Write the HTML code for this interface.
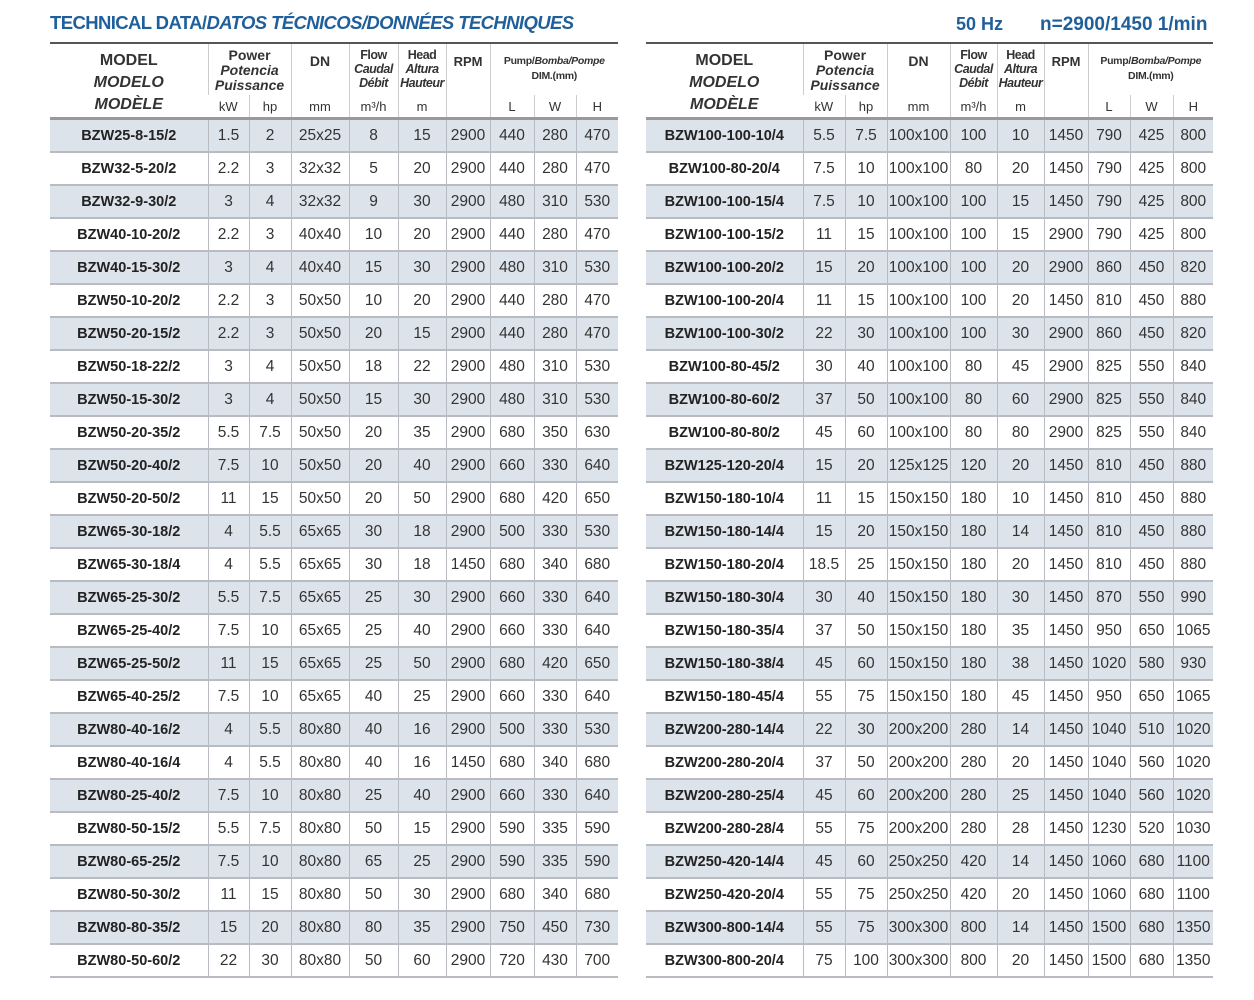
<!DOCTYPE html>
<html><head><meta charset="utf-8"><style>
body{margin:0;width:1254px;height:1000px;background:#fff;position:relative;font-family:"Liberation Sans",sans-serif;color:#333;overflow:hidden}
.t{position:absolute;font-weight:bold;color:#1f5f9a;font-size:18px;white-space:nowrap}
table{position:absolute;border-collapse:collapse;table-layout:fixed}
table.h{top:42px;border-top:2px solid #555;border-bottom:3px solid #999;height:77px}
table.h td{text-align:center;vertical-align:top;font-weight:bold;color:#333;border-left:1px solid #ccc;padding:0;overflow:visible;white-space:nowrap}
table.h td:first-child{border-left:none}
table.h tr.u td{font-weight:normal;font-size:13px;vertical-align:middle;height:22px}
table.h tr.u td.e{border-left:1px solid #ccc}
table.b{top:120px}
table.b td{height:31px;border-bottom:2px solid #b8bcc2;border-left:1px solid #b8bcc2;text-align:center;font-size:15.5px;padding:0;white-space:nowrap}
table.b td:first-child{border-left:none;font-weight:bold;font-size:14.5px;color:#222}
table.b tr:nth-child(odd) td{background:#dde3eb}
i{font-style:italic}
.m{font-size:16px;line-height:22px;padding-top:6px!important}
.p{font-size:14px;line-height:15px;padding-top:4px!important}
.f{font-size:12.5px;line-height:14px;padding-top:4px!important;letter-spacing:-.5px}
.s{font-size:10.5px;line-height:15px;padding-top:10px!important;letter-spacing:-.3px}
</style></head><body>
<div class="t" style="left:50px;top:12px;font-size:18.5px;letter-spacing:-.6px">TECHNICAL DATA/<i>DATOS TÉCNICOS/DONNÉES TECHNIQUES</i></div>
<div class="t" style="left:956px;top:14px">50 Hz</div>
<div class="t" style="left:1040px;top:14px;font-size:19px">n=2900/1450 1/min</div>

<table class="h" style="left:50px;width:568px">
<colgroup><col style="width:158px"><col style="width:41px"><col style="width:42px"><col style="width:58px"><col style="width:49px"><col style="width:48px"><col style="width:44px"><col style="width:44px"><col style="width:42px"><col style="width:42px"></colgroup>
<tr style="height:52px"><td rowspan="2" class="m">MODEL<br><i>MODELO</i><br><i>MODÈLE</i></td><td colspan="2" class="p">Power<br><i>Potencia</i><br><i>Puissance</i></td><td class="p" style="padding-top:10px!important">DN</td><td class="f">Flow<br><i>Caudal</i><br><i>Débit</i></td><td class="f">Head<br><i>Altura</i><br><i>Hauteur</i></td><td rowspan="2" class="p" style="font-size:13px;padding-top:10px!important">RPM</td><td colspan="3" class="s">Pump/<i>Bomba/Pompe</i><br>DIM.(mm)</td></tr>
<tr class="u"><td>kW</td><td class="e">hp</td><td>mm</td><td>m³/h</td><td>m</td><td>L</td><td class="e">W</td><td class="e">H</td></tr>
</table>

<table class="h" style="left:646px;width:567px">
<colgroup><col style="width:157px"><col style="width:42px"><col style="width:42px"><col style="width:63px"><col style="width:47px"><col style="width:47px"><col style="width:44px"><col style="width:42px"><col style="width:43px"><col style="width:40px"></colgroup>
<tr style="height:52px"><td rowspan="2" class="m">MODEL<br><i>MODELO</i><br><i>MODÈLE</i></td><td colspan="2" class="p">Power<br><i>Potencia</i><br><i>Puissance</i></td><td class="p" style="padding-top:10px!important">DN</td><td class="f">Flow<br><i>Caudal</i><br><i>Débit</i></td><td class="f">Head<br><i>Altura</i><br><i>Hauteur</i></td><td rowspan="2" class="p" style="font-size:13px;padding-top:10px!important">RPM</td><td colspan="3" class="s">Pump/<i>Bomba/Pompe</i><br>DIM.(mm)</td></tr>
<tr class="u"><td>kW</td><td class="e">hp</td><td>mm</td><td>m³/h</td><td>m</td><td>L</td><td class="e">W</td><td class="e">H</td></tr>
</table>

<table class="b" style="left:50px;width:568px">
<colgroup><col style="width:158px"><col style="width:41px"><col style="width:42px"><col style="width:58px"><col style="width:49px"><col style="width:48px"><col style="width:44px"><col style="width:44px"><col style="width:42px"><col style="width:42px"></colgroup>
<tr><td>BZW25-8-15/2</td><td>1.5</td><td>2</td><td>25x25</td><td>8</td><td>15</td><td>2900</td><td>440</td><td>280</td><td>470</td></tr>
<tr><td>BZW32-5-20/2</td><td>2.2</td><td>3</td><td>32x32</td><td>5</td><td>20</td><td>2900</td><td>440</td><td>280</td><td>470</td></tr>
<tr><td>BZW32-9-30/2</td><td>3</td><td>4</td><td>32x32</td><td>9</td><td>30</td><td>2900</td><td>480</td><td>310</td><td>530</td></tr>
<tr><td>BZW40-10-20/2</td><td>2.2</td><td>3</td><td>40x40</td><td>10</td><td>20</td><td>2900</td><td>440</td><td>280</td><td>470</td></tr>
<tr><td>BZW40-15-30/2</td><td>3</td><td>4</td><td>40x40</td><td>15</td><td>30</td><td>2900</td><td>480</td><td>310</td><td>530</td></tr>
<tr><td>BZW50-10-20/2</td><td>2.2</td><td>3</td><td>50x50</td><td>10</td><td>20</td><td>2900</td><td>440</td><td>280</td><td>470</td></tr>
<tr><td>BZW50-20-15/2</td><td>2.2</td><td>3</td><td>50x50</td><td>20</td><td>15</td><td>2900</td><td>440</td><td>280</td><td>470</td></tr>
<tr><td>BZW50-18-22/2</td><td>3</td><td>4</td><td>50x50</td><td>18</td><td>22</td><td>2900</td><td>480</td><td>310</td><td>530</td></tr>
<tr><td>BZW50-15-30/2</td><td>3</td><td>4</td><td>50x50</td><td>15</td><td>30</td><td>2900</td><td>480</td><td>310</td><td>530</td></tr>
<tr><td>BZW50-20-35/2</td><td>5.5</td><td>7.5</td><td>50x50</td><td>20</td><td>35</td><td>2900</td><td>680</td><td>350</td><td>630</td></tr>
<tr><td>BZW50-20-40/2</td><td>7.5</td><td>10</td><td>50x50</td><td>20</td><td>40</td><td>2900</td><td>660</td><td>330</td><td>640</td></tr>
<tr><td>BZW50-20-50/2</td><td>11</td><td>15</td><td>50x50</td><td>20</td><td>50</td><td>2900</td><td>680</td><td>420</td><td>650</td></tr>
<tr><td>BZW65-30-18/2</td><td>4</td><td>5.5</td><td>65x65</td><td>30</td><td>18</td><td>2900</td><td>500</td><td>330</td><td>530</td></tr>
<tr><td>BZW65-30-18/4</td><td>4</td><td>5.5</td><td>65x65</td><td>30</td><td>18</td><td>1450</td><td>680</td><td>340</td><td>680</td></tr>
<tr><td>BZW65-25-30/2</td><td>5.5</td><td>7.5</td><td>65x65</td><td>25</td><td>30</td><td>2900</td><td>660</td><td>330</td><td>640</td></tr>
<tr><td>BZW65-25-40/2</td><td>7.5</td><td>10</td><td>65x65</td><td>25</td><td>40</td><td>2900</td><td>660</td><td>330</td><td>640</td></tr>
<tr><td>BZW65-25-50/2</td><td>11</td><td>15</td><td>65x65</td><td>25</td><td>50</td><td>2900</td><td>680</td><td>420</td><td>650</td></tr>
<tr><td>BZW65-40-25/2</td><td>7.5</td><td>10</td><td>65x65</td><td>40</td><td>25</td><td>2900</td><td>660</td><td>330</td><td>640</td></tr>
<tr><td>BZW80-40-16/2</td><td>4</td><td>5.5</td><td>80x80</td><td>40</td><td>16</td><td>2900</td><td>500</td><td>330</td><td>530</td></tr>
<tr><td>BZW80-40-16/4</td><td>4</td><td>5.5</td><td>80x80</td><td>40</td><td>16</td><td>1450</td><td>680</td><td>340</td><td>680</td></tr>
<tr><td>BZW80-25-40/2</td><td>7.5</td><td>10</td><td>80x80</td><td>25</td><td>40</td><td>2900</td><td>660</td><td>330</td><td>640</td></tr>
<tr><td>BZW80-50-15/2</td><td>5.5</td><td>7.5</td><td>80x80</td><td>50</td><td>15</td><td>2900</td><td>590</td><td>335</td><td>590</td></tr>
<tr><td>BZW80-65-25/2</td><td>7.5</td><td>10</td><td>80x80</td><td>65</td><td>25</td><td>2900</td><td>590</td><td>335</td><td>590</td></tr>
<tr><td>BZW80-50-30/2</td><td>11</td><td>15</td><td>80x80</td><td>50</td><td>30</td><td>2900</td><td>680</td><td>340</td><td>680</td></tr>
<tr><td>BZW80-80-35/2</td><td>15</td><td>20</td><td>80x80</td><td>80</td><td>35</td><td>2900</td><td>750</td><td>450</td><td>730</td></tr>
<tr><td>BZW80-50-60/2</td><td>22</td><td>30</td><td>80x80</td><td>50</td><td>60</td><td>2900</td><td>720</td><td>430</td><td>700</td></tr>
</table>

<table class="b" style="left:646px;width:567px">
<colgroup><col style="width:157px"><col style="width:42px"><col style="width:42px"><col style="width:63px"><col style="width:47px"><col style="width:47px"><col style="width:44px"><col style="width:42px"><col style="width:43px"><col style="width:40px"></colgroup>
<tr><td>BZW100-100-10/4</td><td>5.5</td><td>7.5</td><td>100x100</td><td>100</td><td>10</td><td>1450</td><td>790</td><td>425</td><td>800</td></tr>
<tr><td>BZW100-80-20/4</td><td>7.5</td><td>10</td><td>100x100</td><td>80</td><td>20</td><td>1450</td><td>790</td><td>425</td><td>800</td></tr>
<tr><td>BZW100-100-15/4</td><td>7.5</td><td>10</td><td>100x100</td><td>100</td><td>15</td><td>1450</td><td>790</td><td>425</td><td>800</td></tr>
<tr><td>BZW100-100-15/2</td><td>11</td><td>15</td><td>100x100</td><td>100</td><td>15</td><td>2900</td><td>790</td><td>425</td><td>800</td></tr>
<tr><td>BZW100-100-20/2</td><td>15</td><td>20</td><td>100x100</td><td>100</td><td>20</td><td>2900</td><td>860</td><td>450</td><td>820</td></tr>
<tr><td>BZW100-100-20/4</td><td>11</td><td>15</td><td>100x100</td><td>100</td><td>20</td><td>1450</td><td>810</td><td>450</td><td>880</td></tr>
<tr><td>BZW100-100-30/2</td><td>22</td><td>30</td><td>100x100</td><td>100</td><td>30</td><td>2900</td><td>860</td><td>450</td><td>820</td></tr>
<tr><td>BZW100-80-45/2</td><td>30</td><td>40</td><td>100x100</td><td>80</td><td>45</td><td>2900</td><td>825</td><td>550</td><td>840</td></tr>
<tr><td>BZW100-80-60/2</td><td>37</td><td>50</td><td>100x100</td><td>80</td><td>60</td><td>2900</td><td>825</td><td>550</td><td>840</td></tr>
<tr><td>BZW100-80-80/2</td><td>45</td><td>60</td><td>100x100</td><td>80</td><td>80</td><td>2900</td><td>825</td><td>550</td><td>840</td></tr>
<tr><td>BZW125-120-20/4</td><td>15</td><td>20</td><td>125x125</td><td>120</td><td>20</td><td>1450</td><td>810</td><td>450</td><td>880</td></tr>
<tr><td>BZW150-180-10/4</td><td>11</td><td>15</td><td>150x150</td><td>180</td><td>10</td><td>1450</td><td>810</td><td>450</td><td>880</td></tr>
<tr><td>BZW150-180-14/4</td><td>15</td><td>20</td><td>150x150</td><td>180</td><td>14</td><td>1450</td><td>810</td><td>450</td><td>880</td></tr>
<tr><td>BZW150-180-20/4</td><td>18.5</td><td>25</td><td>150x150</td><td>180</td><td>20</td><td>1450</td><td>810</td><td>450</td><td>880</td></tr>
<tr><td>BZW150-180-30/4</td><td>30</td><td>40</td><td>150x150</td><td>180</td><td>30</td><td>1450</td><td>870</td><td>550</td><td>990</td></tr>
<tr><td>BZW150-180-35/4</td><td>37</td><td>50</td><td>150x150</td><td>180</td><td>35</td><td>1450</td><td>950</td><td>650</td><td>1065</td></tr>
<tr><td>BZW150-180-38/4</td><td>45</td><td>60</td><td>150x150</td><td>180</td><td>38</td><td>1450</td><td>1020</td><td>580</td><td>930</td></tr>
<tr><td>BZW150-180-45/4</td><td>55</td><td>75</td><td>150x150</td><td>180</td><td>45</td><td>1450</td><td>950</td><td>650</td><td>1065</td></tr>
<tr><td>BZW200-280-14/4</td><td>22</td><td>30</td><td>200x200</td><td>280</td><td>14</td><td>1450</td><td>1040</td><td>510</td><td>1020</td></tr>
<tr><td>BZW200-280-20/4</td><td>37</td><td>50</td><td>200x200</td><td>280</td><td>20</td><td>1450</td><td>1040</td><td>560</td><td>1020</td></tr>
<tr><td>BZW200-280-25/4</td><td>45</td><td>60</td><td>200x200</td><td>280</td><td>25</td><td>1450</td><td>1040</td><td>560</td><td>1020</td></tr>
<tr><td>BZW200-280-28/4</td><td>55</td><td>75</td><td>200x200</td><td>280</td><td>28</td><td>1450</td><td>1230</td><td>520</td><td>1030</td></tr>
<tr><td>BZW250-420-14/4</td><td>45</td><td>60</td><td>250x250</td><td>420</td><td>14</td><td>1450</td><td>1060</td><td>680</td><td>1100</td></tr>
<tr><td>BZW250-420-20/4</td><td>55</td><td>75</td><td>250x250</td><td>420</td><td>20</td><td>1450</td><td>1060</td><td>680</td><td>1100</td></tr>
<tr><td>BZW300-800-14/4</td><td>55</td><td>75</td><td>300x300</td><td>800</td><td>14</td><td>1450</td><td>1500</td><td>680</td><td>1350</td></tr>
<tr><td>BZW300-800-20/4</td><td>75</td><td>100</td><td>300x300</td><td>800</td><td>20</td><td>1450</td><td>1500</td><td>680</td><td>1350</td></tr>
</table>
</body></html>
